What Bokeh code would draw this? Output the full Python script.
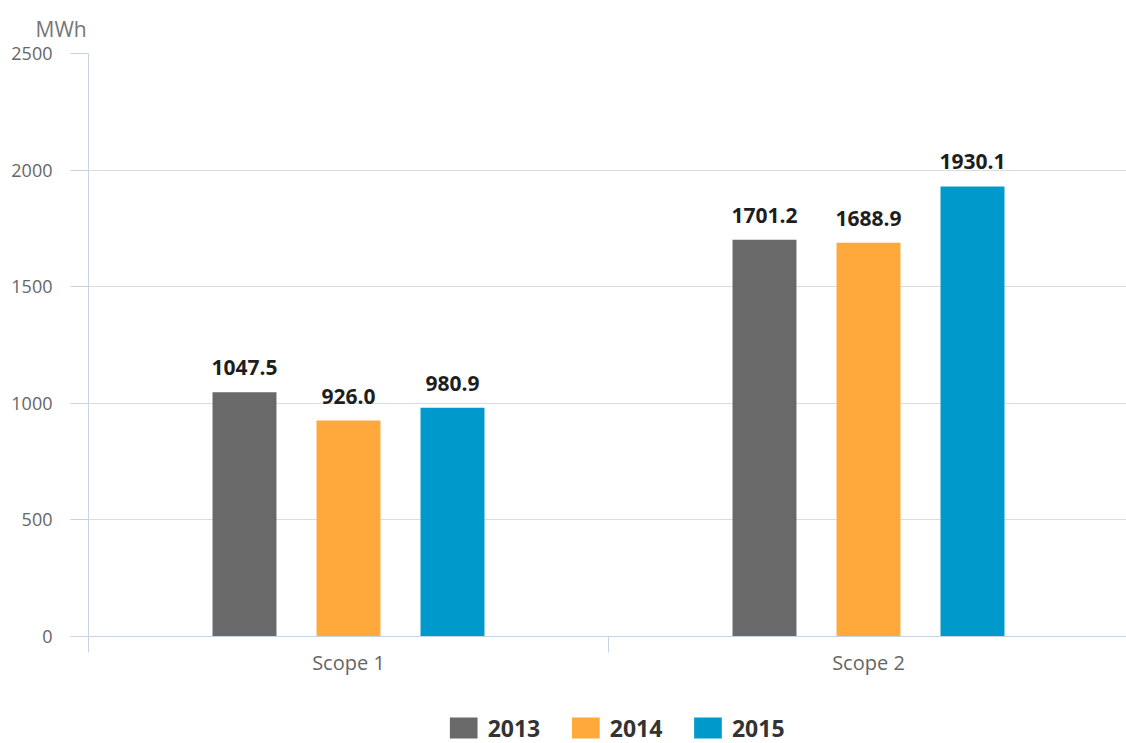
from bokeh.plotting import figure
from bokeh.models import (ColumnDataSource, Range1d, FixedTicker, LabelSet, Title)
from bokeh.layouts import column
from bokeh.core.properties import value
from bokeh.transform import dodge
from bokeh.embed import file_html
from bokeh.resources import INLINE

categories = ["Scope 1", "Scope 2"]
years = ["2013", "2014", "2015"]
v2013 = [1047.5, 1701.2]
v2014 = [926.0, 1688.9]
v2015 = [980.9, 1930.1]
y_ticks = [0, 500, 1000, 1500, 2000, 2500]
unit = "MWh"

colors = ["#696969", "#FFA83B", "#0099CC"]
offsets = [-0.2, 0.0, 0.2]
series = [v2013, v2014, v2015]

FONT = "Open Sans"
AXIS_COL = "#c5d3e3"
GRID_COL = "#d9dde2"

p = figure(width=1126, height=693, frame_width=1038, frame_height=583,
           output_backend="svg", toolbar_location=None,
           x_range=Range1d(0, 1038 / 520), y_range=Range1d(0, 2500),
           min_border_left=88, min_border_right=0, min_border_top=53,
           min_border_bottom=57)
p.outline_line_color = None
p.background_fill_color = "white"

xc = [i + 0.5 for i in range(len(categories))]
for yr, vals, col, off in zip(years, series, colors, offsets):
    src = ColumnDataSource(dict(xc=xc, top=vals,
                                lbl=["%.1f" % v for v in vals]))
    p.vbar(x=dodge("xc", off), top="top", width=0.123, source=src,
           fill_color=col, line_color=None)
    lab = LabelSet(x=dodge("xc", off), y="top", text="lbl", source=src,
                   text_align="center", text_baseline="alphabetic",
                   y_offset=17, text_font=value(FONT), text_font_style="bold",
                   text_font_size="21px", text_color="#1e1e1e")
    p.add_layout(lab)

# x axis
xa = p.xaxis[0]
xa.ticker = FixedTicker(ticks=xc, minor_ticks=[0, 1])
xa.major_label_overrides = {x: c for x, c in zip(xc, categories)}
xa.axis_line_color = AXIS_COL
xa.major_tick_line_color = None
xa.minor_tick_line_color = AXIS_COL
xa.minor_tick_in = 0
xa.minor_tick_out = 16
xa.major_tick_out = 0
xa.major_tick_in = 0
xa.major_label_standoff = -4
xa.major_label_text_font = FONT
xa.major_label_text_font_size = "20px"
xa.major_label_text_color = "#666666"

# y axis
ya = p.yaxis[0]
ya.ticker = FixedTicker(ticks=y_ticks)
ya.axis_line_color = AXIS_COL
ya.major_tick_line_color = AXIS_COL
ya.major_tick_in = 0
ya.major_tick_out = 18
ya.minor_tick_line_color = None
ya.major_label_standoff = 18
ya.major_label_text_font = FONT
ya.major_label_text_font_size = "18px"
ya.major_label_text_color = "#666666"

p.xgrid.grid_line_color = None
p.ygrid.grid_line_color = GRID_COL
p.ygrid.ticker = FixedTicker(ticks=y_ticks[1:])

# unit title
t = Title(text=unit, align="left", offset=-53, text_font=FONT,
          text_font_size="21px", text_font_style="normal",
          text_color="#777777", standoff=22)
p.add_layout(t, "above")

# legend strip below the chart (pixel-unit coordinates)
LEG_W, LEG_H = 1126, 50
p2 = figure(width=LEG_W, height=LEG_H, output_backend="svg",
            toolbar_location=None, x_range=Range1d(0, LEG_W),
            y_range=Range1d(0, LEG_H), min_border=0,
            x_axis_location=None, y_axis_location=None)
p2.outline_line_color = None
p2.grid.visible = False
p2.background_fill_color = "white"

step = 132.5
left0 = 392
sq_w, sq_h = 30, 21
leg_src = ColumnDataSource(dict(
    sx=[left0 + sq_w / 2 + i * step for i in range(len(years))],
    tx=[left0 + sq_w + 11 + i * step for i in range(len(years))],
    sy=[15.5] * len(years),
    color=colors,
    label=years,
))
p2.rect(x="sx", y="sy", width=sq_w, height=sq_h, fill_color="color",
        line_color=None, source=leg_src)
p2.text(x="tx", y="sy", text="label", source=leg_src,
        text_font=value(FONT), text_font_style="bold",
        text_font_size=value("23px"), text_color="#333333",
        text_align="left", text_baseline="middle")

layout = column(p, p2, spacing=0)
open("out.html", "w").write(file_html(layout, INLINE))
